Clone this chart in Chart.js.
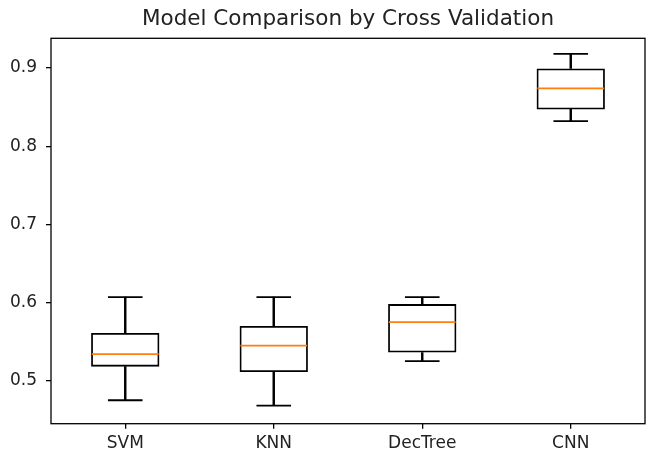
<!DOCTYPE html>
<html><head><meta charset="utf-8">
<script src="https://cdn.jsdelivr.net/npm/chart.js@4"></script>
<style>html,body{margin:0;padding:0;background:#fff}#wrap{width:648px;height:453px;position:relative}</style>
</head><body><div id="wrap"><canvas id="c"></canvas></div>
<script>
const categories = ['SVM', 'KNN', 'DecTree', 'CNN'];
const whiskerLow = [0.475, 0.468, 0.525, 0.832];
const q1 = [0.518, 0.511, 0.536, 0.847];
const medians = [0.534, 0.545, 0.575, 0.874];
const q3 = [0.561, 0.570, 0.598, 0.8995];
const whiskerHigh = [0.607, 0.607, 0.607, 0.918];
const yTicks = [0.5, 0.6, 0.7, 0.8, 0.9];
const yTickLabels = ['0.5', '0.6', '0.7', '0.8', '0.9'];

const FONT = 'DejaVu Sans';
const TXT = '#222';
const LW = 1.8;

const framePlugin = {
  id: 'frame',
  afterLayout(chart) {
    const t = chart.titleBlock, a = chart.chartArea;
    if (t) { t.left = a.left; t.right = a.right; t.width = a.right - a.left; }
  },
  afterDatasetsDraw(chart) {
    const {ctx, chartArea: a} = chart;
    ctx.save();
    ctx.strokeStyle = '#000';
    ctx.lineWidth = 1.3;
    ctx.strokeRect(a.left, a.top, a.right - a.left, a.bottom - a.top);
    ctx.restore();
  }
};

new Chart(document.getElementById('c'), {
  type: 'bar',
  data: {
    labels: categories,
    datasets: [
      {
        label: 'box', data: categories.map((c, i) => [q1[i], q3[i]]),
        backgroundColor: 'rgba(0,0,0,0)', borderColor: '#000', borderWidth: LW,
        borderSkipped: false, barPercentage: 0.46, categoryPercentage: 1, grouped: false, order: 2
      },
      {
        label: 'upper whisker', data: categories.map((c, i) => [q3[i], whiskerHigh[i]]),
        backgroundColor: '#000', borderWidth: 0, barThickness: LW, grouped: false, order: 3
      },
      {
        label: 'lower whisker', data: categories.map((c, i) => [whiskerLow[i], q1[i]]),
        backgroundColor: '#000', borderWidth: 0, barThickness: LW, grouped: false, order: 3
      },
      {
        type: 'line', label: 'upper cap', data: whiskerHigh, showLine: false,
        pointStyle: 'line', pointRadius: 17.3, pointBorderWidth: LW, pointBorderColor: '#000', order: 1
      },
      {
        type: 'line', label: 'lower cap', data: whiskerLow, showLine: false,
        pointStyle: 'line', pointRadius: 17.3, pointBorderWidth: LW, pointBorderColor: '#000', order: 1
      },
      {
        type: 'line', label: 'median', data: medians, showLine: false,
        pointStyle: 'line', pointRadius: 33.4, pointBorderWidth: LW, pointBorderColor: '#ff7f0e', order: 0
      }
    ]
  },
  options: {
    responsive: true, maintainAspectRatio: false, animation: false, events: [],
    layout: { autoPadding: false, padding: { left: 0, right: 3, top: 0, bottom: 0 } },
    plugins: {
      legend: { display: false }, tooltip: { enabled: false },
      title: {
        display: true, text: 'Model Comparison by Cross Validation', color: TXT,
        font: { family: FONT, size: 21.5, weight: 'normal' }, padding: { top: 7, bottom: 5.5 }
      }
    },
    scales: {
      x: {
        type: 'category', offset: true,
        grid: { display: true, drawOnChartArea: false, drawTicks: true, tickLength: 5, color: '#000', lineWidth: 1.3, offset: false },
        border: { display: false },
        ticks: { color: TXT, font: { family: FONT, size: 17 }, padding: 5, maxRotation: 0 },
        afterFit(s) { s.height = 29.3; }
      },
      y: {
        type: 'linear', min: 0.445, max: 0.938,
        grid: { display: true, drawOnChartArea: false, drawTicks: true, tickLength: 5, color: '#000', lineWidth: 1.3 },
        border: { display: false },
        afterBuildTicks(s) { s.ticks = yTicks.map(v => ({ value: v })); },
        ticks: { color: TXT, font: { family: FONT, size: 17 }, padding: 9, callback: (v, i) => yTickLabels[i] },
        afterFit(s) { s.width = 51; }
      }
    }
  },
  plugins: [framePlugin]
});
</script></body></html>
